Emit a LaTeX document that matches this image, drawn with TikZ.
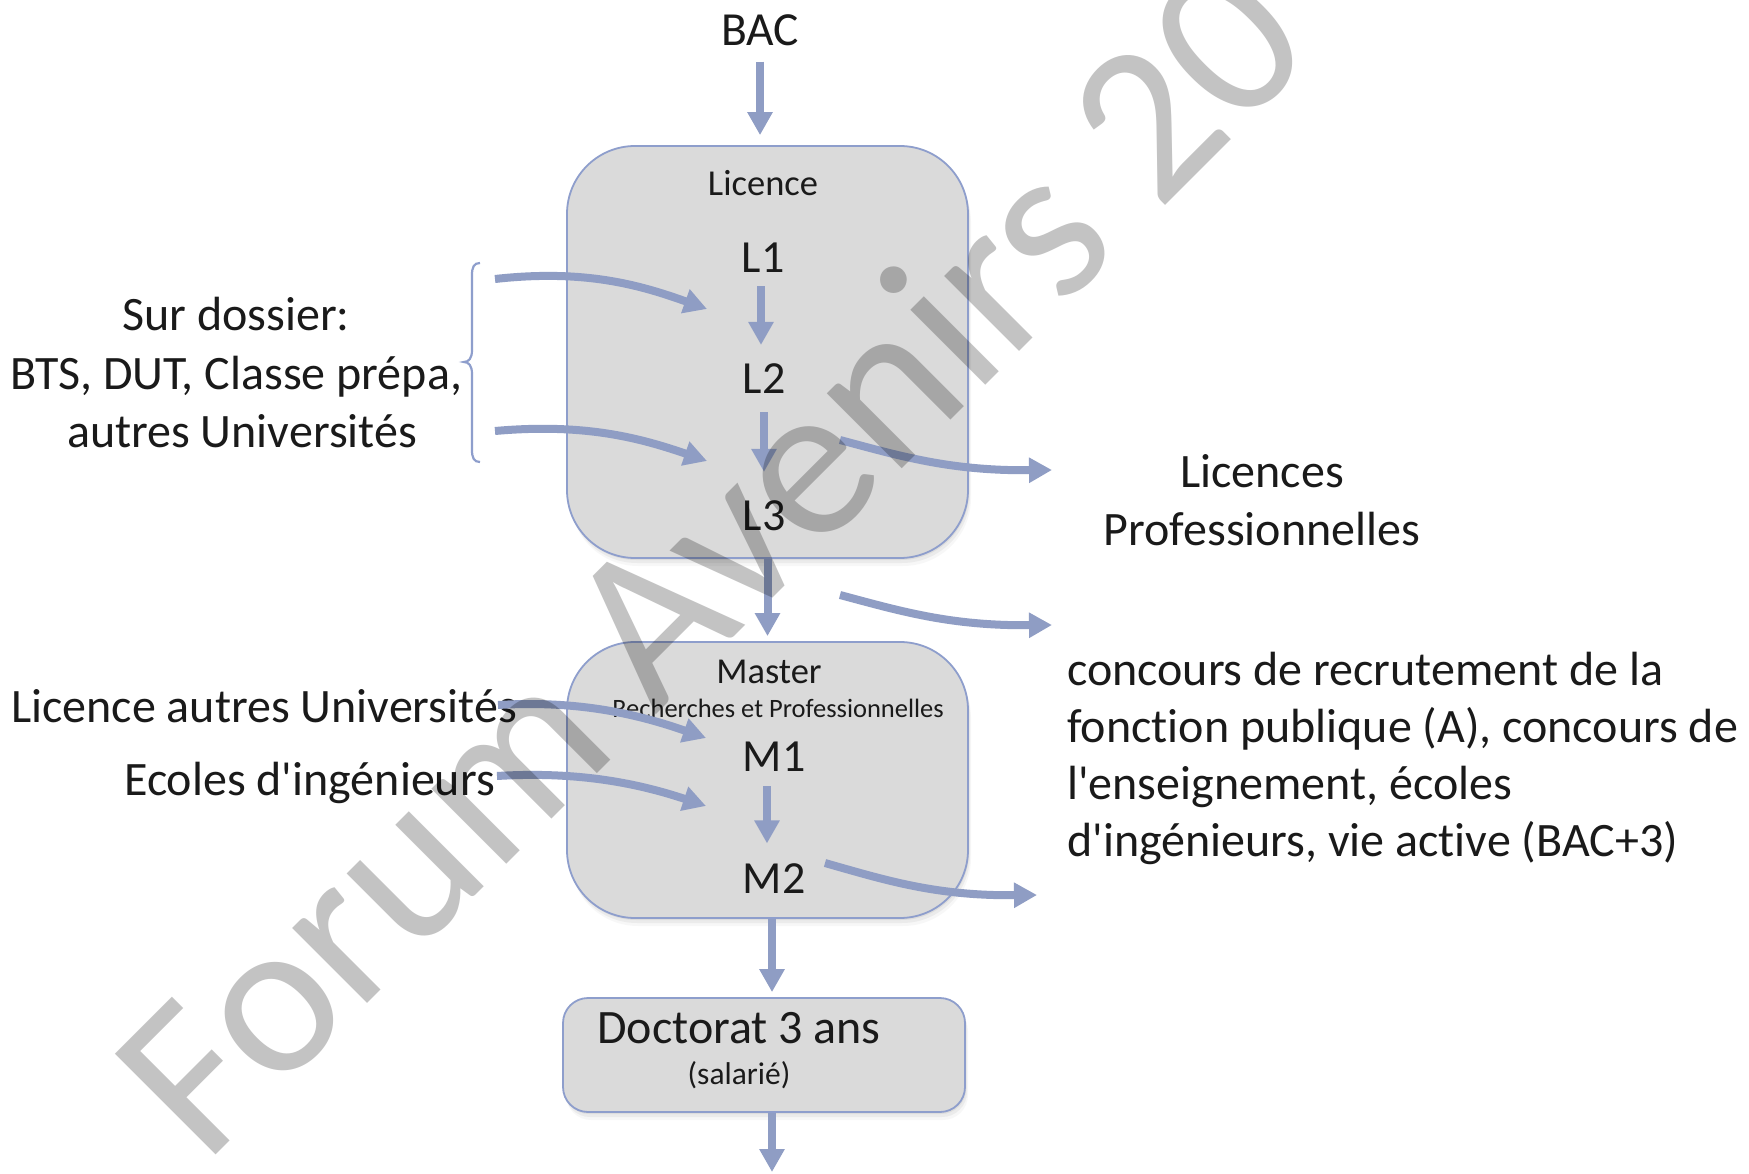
\documentclass[tikz,border=0pt]{standalone}
\usepackage{fontspec}
\setmainfont{Carlito}[Ligatures={TeXOff,NoCommon}]
\usetikzlibrary{arrows.meta,shadows}
\definecolor{arrowc}{RGB}{143,157,196}
\definecolor{boxline}{RGB}{142,158,204}
\definecolor{boxfill}{RGB}{218,218,218}
\definecolor{wmc}{RGB}{195,195,195}
\definecolor{ink}{RGB}{26,26,26}
\begin{document}
\begin{tikzpicture}[x=1pt,y=-1pt,
  txt/.style={inner sep=0pt, anchor=base, text=ink, font=\fontsize{48}{58}\selectfont},
  steptxt/.style={txt, font=\fontsize{46}{56}\selectfont},
  midtxt/.style={txt, font=\fontsize{36.5}{44}\selectfont},
  subtxt/.style={txt, font=\fontsize{26.5}{32}\selectfont},
  saltxt/.style={txt, font=\fontsize{31.5}{38}\selectfont},
  stage/.style={draw=boxline, line width=1.8pt, fill=boxfill, inner sep=0pt,
    drop shadow={shadow xshift=1pt, shadow yshift=-2pt, opacity=0.12},
    drop shadow={shadow xshift=2pt, shadow yshift=-5pt, opacity=0.10},
    drop shadow={shadow xshift=3pt, shadow yshift=-8pt, opacity=0.06}},
  arr/.style={draw=arrowc, line width=8pt, -{Triangle[length=23pt,width=24pt]}},
  bracec/.style={draw=boxline, line width=2.2pt},
  wm/.style={rotate=45, anchor=base west, inner sep=0pt, text=wmc, font=\fontsize{222}{266}\selectfont}]
\useasboundingbox[fill=white] (0,0) rectangle (1749,1174);

% boxes
\node[stage, minimum width=401pt, minimum height=412pt, rounded corners=68pt] (lic) at (767.5,352) {};
\node[stage, minimum width=401pt, minimum height=276pt, rounded corners=68pt] (mas) at (767.5,780) {};
\node[stage, minimum width=402pt, minimum height=114pt, rounded corners=25pt] (doc) at (764,1055) {};

% texts in column
\node[txt, font=\fontsize{47.5}{58}\selectfont] (bac) at (760,45.5) {BAC};
\node[midtxt] (lictitle) at (763,196) {Licence};
\node[steptxt] (L1) at (763,273) {L1};
\node[steptxt] (L2) at (764,393) {L2};
\node[steptxt] (L3) at (764,530) {L3};
\node[midtxt] (mastitle) at (769,683) {Master};
\node[subtxt] (massub) at (778,717) {Recherches et Professionnelles};
\node[steptxt] (M1) at (774,771.5) {M1};
\node[steptxt] (M2) at (774,893) {M2};
\node[txt] (doctitle) at (739,1043) {Doctorat 3 ans};
\node[saltxt] (docsub) at (739,1084) {(salarié)};

% left texts
\node[txt] (sd1) at (236,331) {Sur dossier:};
\node[txt] (sd2) at (236,389) {BTS, DUT, Classe prépa,};
\node[txt] (sd3) at (242,447) {autres Universités};
\node[txt, anchor=base west] (lau) at (11,722) {Licence autres Universités};
\node[txt, anchor=base west] (eci) at (124,795) {Ecoles d'ingénieurs};

% right texts
\node[txt] (lp1) at (1262,487) {Licences};
\node[txt] (lp2) at (1262,545) {Professionnelles};
\node[txt, anchor=base west] (c1) at (1067,685) {concours de recrutement de la};
\node[txt, anchor=base west] (c2) at (1067,742) {fonction publique (A), concours de};
\node[txt, anchor=base west] (c3) at (1067,799) {l'enseignement, écoles};
\node[txt, anchor=base west] (c4) at (1067,856) {d'ingénieurs, vie active (BAC+3)};

% brace
\draw[bracec] (480,263) .. controls (474,263) and (472,267) .. (472,275) -- (472,350)
  .. controls (472,358) and (469,362) .. (464,362) .. controls (469,362) and (472,366) .. (472,374)
  -- (472,450) .. controls (472,458) and (474,462) .. (480,462);

% vertical arrows
\draw[arr, shorten <=15.5pt, shorten >=10pt] (bac.south) -- (bac.south |- lic.north);
\draw[arr, shorten <=13pt, shorten >=18pt] ([xshift=-2pt]L1.south) -- ([xshift=-2pt]L1.south |- L2.north);
\draw[arr, shorten <=19pt, shorten >=28pt] (L2.south) -- (L2.south |- L3.north);
\draw[arr, shorten >=5pt] (lic.south) -- (lic.south |- mas.north);
\draw[arr, shorten <=14.5pt, shorten >=19.5pt] ([xshift=-7pt]M1.south) -- ([xshift=-7pt]M1.south |- M2.north);
\draw[arr, shorten >=5pt] ([xshift=4.5pt]mas.south) -- ([xshift=4.5pt]mas.south |- doc.north);
\coordinate (docend) at (772,1172);
\draw[arr] ([xshift=8pt]doc.south) -- (docend);

% incoming curved arrows
\coordinate (in1s) at (495,279); \coordinate (in1e) at (707,309);
\coordinate (in2s) at (495,431); \coordinate (in2e) at (707,461);
\coordinate (in3s) at (498,705); \coordinate (in3e) at (706,738);
\coordinate (in4s) at (497,776); \coordinate (in4e) at (706,806);
\draw[arr] (in1s) .. controls (585,269) and (640,285) .. (in1e);
\draw[arr] (in2s) .. controls (585,423) and (640,438) .. (in2e);
\draw[arr] (in3s) .. controls (580,700) and (640,715) .. (in3e);
\draw[arr] (in4s) .. controls (580,771) and (640,784) .. (in4e);

% outgoing curved arrows
\coordinate (out1s) at (840,440); \coordinate (out1e) at (1052,470);
\coordinate (out2s) at (840,595); \coordinate (out2e) at (1052,625);
\coordinate (out3s) at (825,863); \coordinate (out3e) at (1037,895);
\draw[arr] (out1s) .. controls (900,456) and (950,471) .. (out1e);
\draw[arr] (out2s) .. controls (900,611) and (950,626) .. (out2e);
\draw[arr] (out3s) .. controls (885,880) and (935,896) .. (out3e);

% watermark
\begin{scope}[blend mode=multiply]
\node[wm] (wm) at (205,1166) {Forum Avenirs 20};
\end{scope}
\end{tikzpicture}
\end{document}
